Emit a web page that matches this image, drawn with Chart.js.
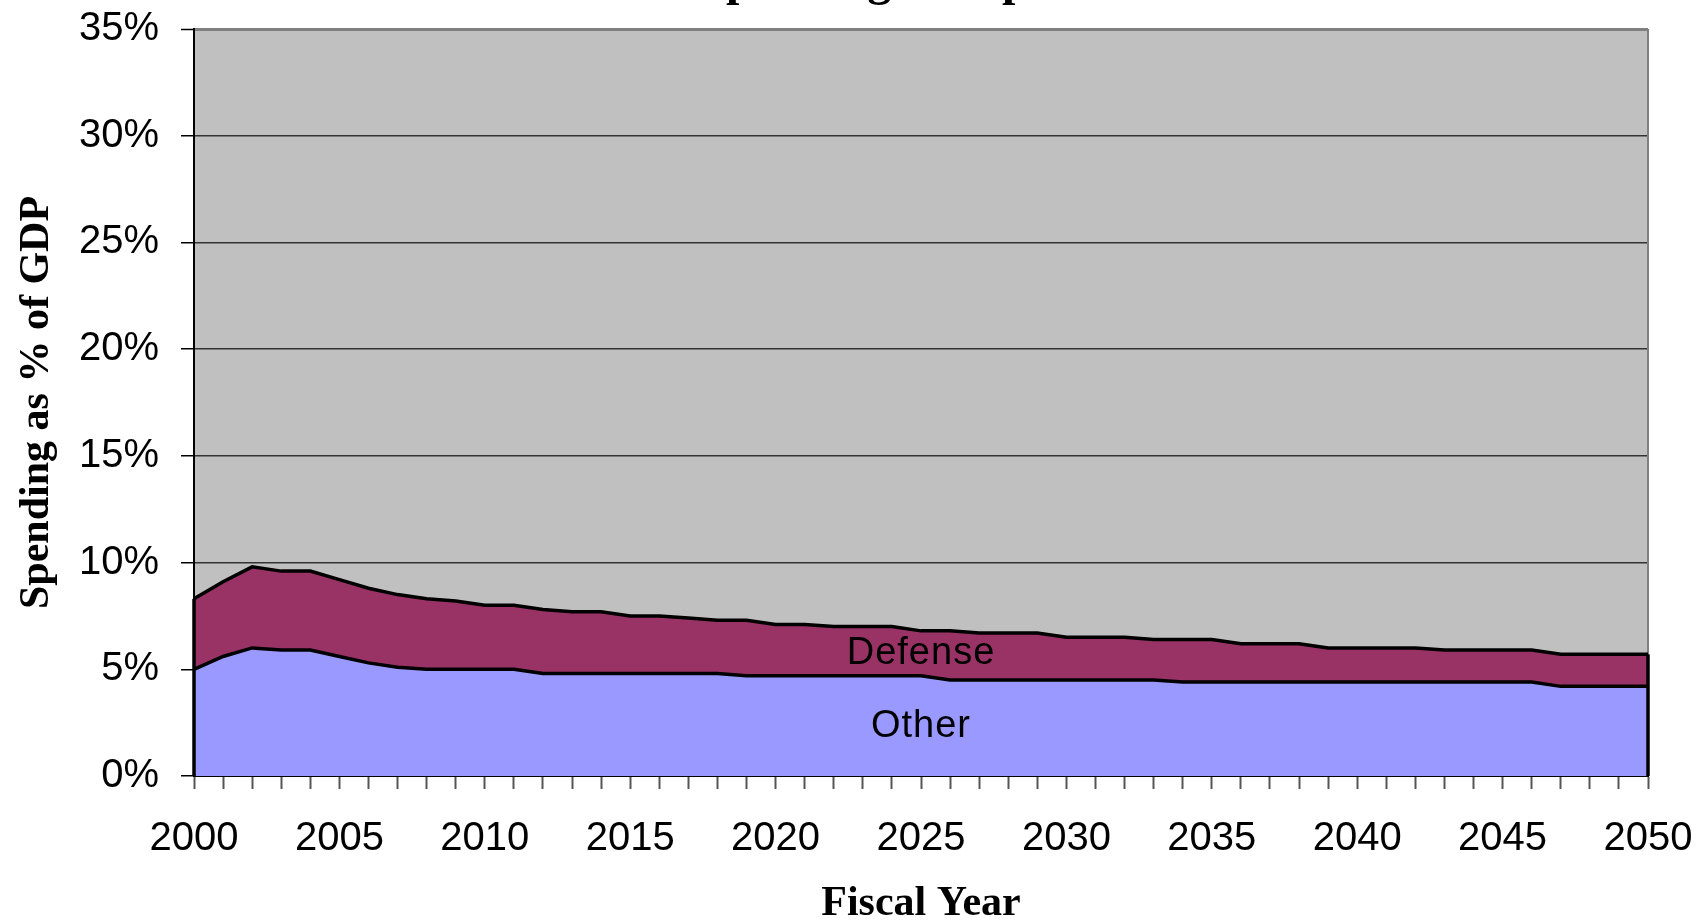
<!DOCTYPE html>
<html>
<head>
<meta charset="utf-8">
<title>Spending Composition</title>
<script src="https://cdn.jsdelivr.net/npm/chart.js@4.4.1/dist/chart.umd.min.js"></script>
<style>
  html, body { margin: 0; padding: 0; background: #fff; }
  #wrap { width: 1707px; height: 921px; }
</style>
</head>
<body>
<div id="wrap"><canvas id="spendChart" width="1707" height="921"></canvas></div>
<script>
// Fiscal years 2000-2050
const years = [
  2000, 2001, 2002, 2003, 2004, 2005, 2006, 2007, 2008, 2009,
  2010, 2011, 2012, 2013, 2014, 2015, 2016, 2017, 2018, 2019,
  2020, 2021, 2022, 2023, 2024, 2025, 2026, 2027, 2028, 2029,
  2030, 2031, 2032, 2033, 2034, 2035, 2036, 2037, 2038, 2039,
  2040, 2041, 2042, 2043, 2044, 2045, 2046, 2047, 2048, 2049, 2050
];

// Spending as % of GDP, stacked: other first, defense on top
const otherPct = [
  5.0, 5.6, 6.0, 5.9, 5.9, 5.6, 5.3, 5.1, 5.0, 5.0,
  5.0, 5.0, 4.8, 4.8, 4.8, 4.8, 4.8, 4.8, 4.8, 4.7,
  4.7, 4.7, 4.7, 4.7, 4.7, 4.7, 4.5, 4.5, 4.5, 4.5,
  4.5, 4.5, 4.5, 4.5, 4.4, 4.4, 4.4, 4.4, 4.4, 4.4,
  4.4, 4.4, 4.4, 4.4, 4.4, 4.4, 4.4, 4.2, 4.2, 4.2, 4.2
];
const defensePct = [
  3.3, 3.5, 3.8, 3.7, 3.7, 3.6, 3.5, 3.4, 3.3, 3.2,
  3.0, 3.0, 3.0, 2.9, 2.9, 2.7, 2.7, 2.6, 2.5, 2.6,
  2.4, 2.4, 2.3, 2.3, 2.3, 2.1, 2.3, 2.2, 2.2, 2.2,
  2.0, 2.0, 2.0, 1.9, 2.0, 2.0, 1.8, 1.8, 1.8, 1.6,
  1.6, 1.6, 1.6, 1.5, 1.5, 1.5, 1.5, 1.5, 1.5, 1.5, 1.5
];

const yTicks = [0, 5, 10, 15, 20, 25, 30, 35];

const sansFont = 'Arial, "Liberation Sans", sans-serif';
const serifFont = '"Times New Roman", "Liberation Serif", serif';

// grey plot background plus the right-hand frame line
const plotFrame = {
  id: 'plotFrame',
  beforeDraw(chart) {
    const { ctx, chartArea: a } = chart;
    ctx.save();
    ctx.fillStyle = '#c0c0c0';
    ctx.fillRect(a.left, a.top, a.right - a.left, a.bottom - a.top);
    ctx.restore();
  },
  beforeDatasetsDraw(chart) {
    const { ctx, chartArea: a } = chart;
    ctx.save();
    ctx.strokeStyle = '#808080';
    ctx.lineWidth = 2;
    ctx.beginPath();
    ctx.moveTo(a.right, a.top);
    ctx.lineTo(a.right, a.bottom);
    ctx.stroke();
    ctx.restore();
  }
};

// close the stacked areas at both ends and write the series names inside
const areaLabels = {
  id: 'areaLabels',
  afterDatasetsDraw(chart) {
    const { ctx, scales: { x, y } } = chart;
    const top = chart.getDatasetMeta(1).data;
    const y0 = y.getPixelForValue(0);
    ctx.save();
    ctx.strokeStyle = '#000';
    ctx.lineWidth = 3.5;
    [0, top.length - 1].forEach(i => {
      ctx.beginPath();
      ctx.moveTo(top[i].x, top[i].y);
      ctx.lineTo(top[i].x, y0);
      ctx.stroke();
    });

    ctx.fillStyle = '#000';
    ctx.font = '38px ' + sansFont;
    ctx.letterSpacing = '1px';
    ctx.textAlign = 'center';
    ctx.textBaseline = 'middle';
    const cx = x.getPixelForValue(25);
    ctx.fillText('Defense', cx, y.getPixelForValue(5.75));
    ctx.fillText('Other', cx, y.getPixelForValue(2.3));
    ctx.restore();
  },
  afterDraw(chart) {
    // chart title sits mostly above the visible canvas
    const { ctx } = chart;
    ctx.save();
    ctx.fillStyle = '#000';
    ctx.font = 'bold 48px ' + serifFont;
    ctx.textAlign = 'center';
    ctx.textBaseline = 'alphabetic';
    ctx.fillText('Spending Composition', 932, -5);
    ctx.restore();
  }
};

new Chart(document.getElementById('spendChart'), {
  type: 'line',
  data: {
    labels: years,
    datasets: [
      {
        label: 'Other',
        data: otherPct,
        backgroundColor: '#9999ff',
        borderColor: '#000',
        borderWidth: 3.5,
        fill: 'origin',
        pointRadius: 0,
        tension: 0
      },
      {
        label: 'Defense',
        data: defensePct,
        backgroundColor: '#993366',
        borderColor: '#000',
        borderWidth: 3.5,
        fill: '-1',
        pointRadius: 0,
        tension: 0
      }
    ]
  },
  options: {
    responsive: false,
    animation: false,
    events: [],
    layout: { padding: { left: 0, top: 29, right: 59, bottom: 0 } },
    plugins: {
      legend: { display: false },
      tooltip: { enabled: false },
      title: { display: false }
    },
    scales: {
      x: {
        offset: false,
        grid: {
          drawOnChartArea: false,
          drawTicks: true,
          tickLength: 13,
          tickColor: '#555',
          tickWidth: 2
        },
        border: { color: '#000', width: 2 },
        ticks: {
          autoSkip: false,
          maxRotation: 0,
          minRotation: 0,
          padding: 26,
          color: '#000',
          font: { family: sansFont, size: 40 },
          callback: (val, i) => (years[i] % 5 === 0 ? String(years[i]) : '')
        },
        title: {
          display: true,
          text: 'Fiscal Year',
          color: '#000',
          font: { family: serifFont, size: 42, weight: 'bold' },
          padding: { top: 0, bottom: -8 }
        },
        afterFit(scale) {
          scale.height = 145;
          scale.paddingLeft = 0;
          scale.paddingRight = 0;
        }
      },
      y: {
        stacked: true,
        min: 0,
        max: 35,
        grid: {
          color: ctx => (ctx.tick && ctx.tick.value === 35 ? '#808080' : '#333'),
          lineWidth: ctx => (ctx.tick && ctx.tick.value === 35 ? 3 : 1.5),
          tickLength: 13,
          tickColor: '#000',
          tickWidth: 1.5
        },
        border: { color: '#000', width: 2 },
        afterBuildTicks(scale) {
          scale.ticks = yTicks.map(v => ({ value: v }));
        },
        ticks: {
          padding: 22,
          color: '#000',
          font: { family: sansFont, size: 40 },
          callback: v => v + '%'
        },
        title: {
          display: true,
          text: 'Spending as % of GDP',
          color: '#000',
          font: { family: serifFont, size: 42, weight: 'bold' },
          padding: { top: 12, bottom: 0 }
        },
        afterFit(scale) {
          scale.width = 194;
          scale.paddingTop = 0;
          scale.paddingBottom = 0;
        }
      }
    }
  },
  plugins: [plotFrame, areaLabels]
});
</script>
</body>
</html>
